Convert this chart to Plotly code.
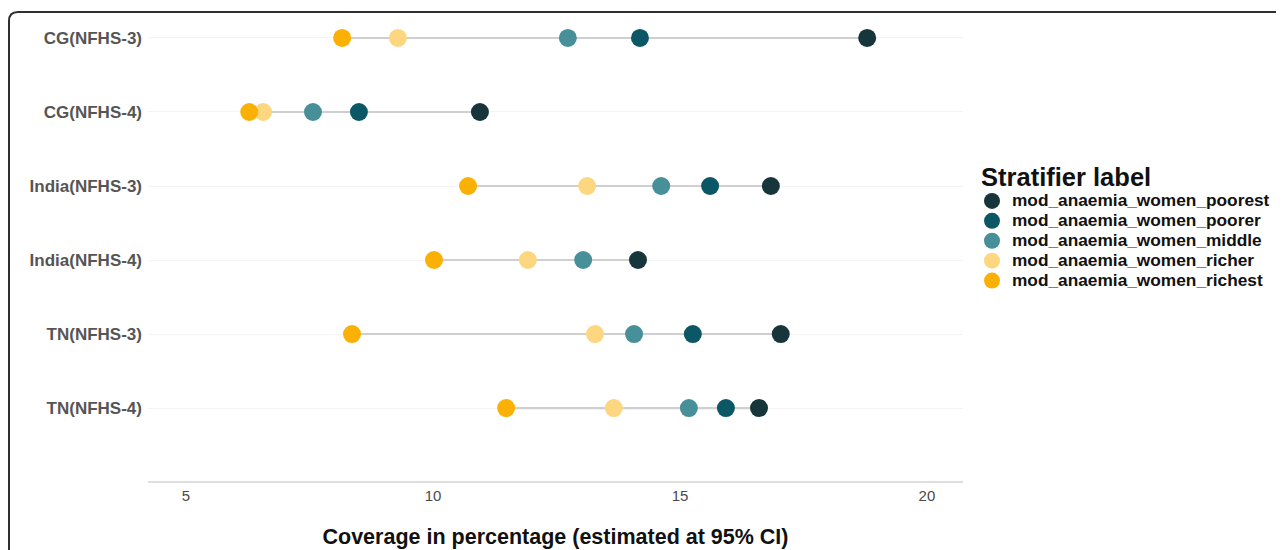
import plotly.graph_objects as go

categories = ["CG(NFHS-3)", "CG(NFHS-4)", "India(NFHS-3)", "India(NFHS-4)", "TN(NFHS-3)", "TN(NFHS-4)"]
series_names = [
    "mod_anaemia_women_poorest",
    "mod_anaemia_women_poorer",
    "mod_anaemia_women_middle",
    "mod_anaemia_women_richer",
    "mod_anaemia_women_richest",
]
poorest = [18.79, 10.95, 16.84, 14.15, 17.04, 16.60]
poorer = [14.19, 8.50, 15.61, None, 15.26, 15.93]
middle = [12.73, 7.57, 14.62, 13.04, 14.07, 15.18]
richer = [9.29, 6.56, 13.12, 11.92, 13.28, 13.66]
richest = [8.16, 6.28, 10.71, 10.02, 8.36, 11.48]
x_ticks = [5, 10, 15, 20]

colors = ["#17363b", "#0b5765", "#47909a", "#fcd780", "#fbb005"]
series_values = [poorest, poorer, middle, richer, richest]

fig = go.Figure()

# connecting segments from min to max per category
seg_x, seg_y = [], []
for i, c in enumerate(categories):
    vals = [s[i] for s in series_values if s[i] is not None]
    seg_x += [min(vals), max(vals), None]
    seg_y += [c, c, None]
fig.add_trace(go.Scatter(x=seg_x, y=seg_y, mode="lines",
                         line=dict(color="#cfcfcf", width=2.2),
                         showlegend=False, hoverinfo="skip"))

for name, vals, col in zip(series_names, series_values, colors):
    fig.add_trace(go.Scatter(
        x=vals, y=categories, mode="markers",
        name='<span style="font-size:17.3px"><b>' + name + "</b></span>",
        marker=dict(size=18, color=col, line=dict(width=0)),
    ))

# page body has an 8px margin; figure coordinates are offset by it
OFF = 8
W, H = 1284 - OFF, 550 - OFF
L, R, T, B = 148 - OFF, 1284 - 963, 14 - OFF, 550 - 481
pw, ph = W - L - R, H - T - B

def px(x):
    return (x - OFF - L) / pw

def py(y):
    return (H - B - (y - OFF)) / ph

x0, yt, xr, yb = px(9), py(12), px(1300), py(570)
dx, dy = 9 / pw, 9 / ph
border_path = f"M {x0},{yb} L {x0},{yt - dy} Q {x0},{yt} {x0 + dx},{yt} L {xr},{yt}"

fig.update_layout(
    width=W, height=H,
    margin=dict(l=L, r=R, t=T, b=B, autoexpand=False),
    paper_bgcolor="white", plot_bgcolor="white",
    font=dict(family="Liberation Sans, Arial, sans-serif"),
    xaxis=dict(
        range=[4.23, 20.73], tickvals=x_ticks, ticktext=[str(v) for v in x_ticks],
        showgrid=False, zeroline=False, showline=True, linecolor="#dedede", linewidth=2,
        tickfont=dict(family="Liberation Sans Narrow, Arial Narrow, Liberation Sans", size=15, color="#4a4a4a"),
        ticks="", automargin=False,
        title=dict(text="<b>Coverage in percentage (estimated at 95% CI)</b>",
                   font=dict(size=21.5, color="#111111"),
                   standoff=26),
    ),
    yaxis=dict(
        type="category", categoryorder="array", categoryarray=categories,
        range=[5.986, -0.324], showgrid=True, gridcolor="#f4f4f4", gridwidth=1,
        zeroline=False, showline=False, ticks="", automargin=False,
        tickfont=dict(size=17, color="#555555", family="Liberation Sans, Arial"),
        tickprefix="<b>", ticksuffix="</b>", ticklabelstandoff=5,
    ),
    legend=dict(
        x=px(972), y=py(121), xanchor="left", yanchor="top",
        title=dict(text='<span style="font-size:25.5px"><b>\u00a0Stratifier label</b></span>',
                   font=dict(size=50, color="#111111")),
        font=dict(size=13, color="#111111"),
        itemsizing="trace", tracegroupgap=0,
    ),
    shapes=[dict(type="path", path=border_path, xref="paper", yref="paper",
                 line=dict(color="#2f2f2f", width=2), layer="above")],
    showlegend=True,
)

fig.write_html("out.html")
